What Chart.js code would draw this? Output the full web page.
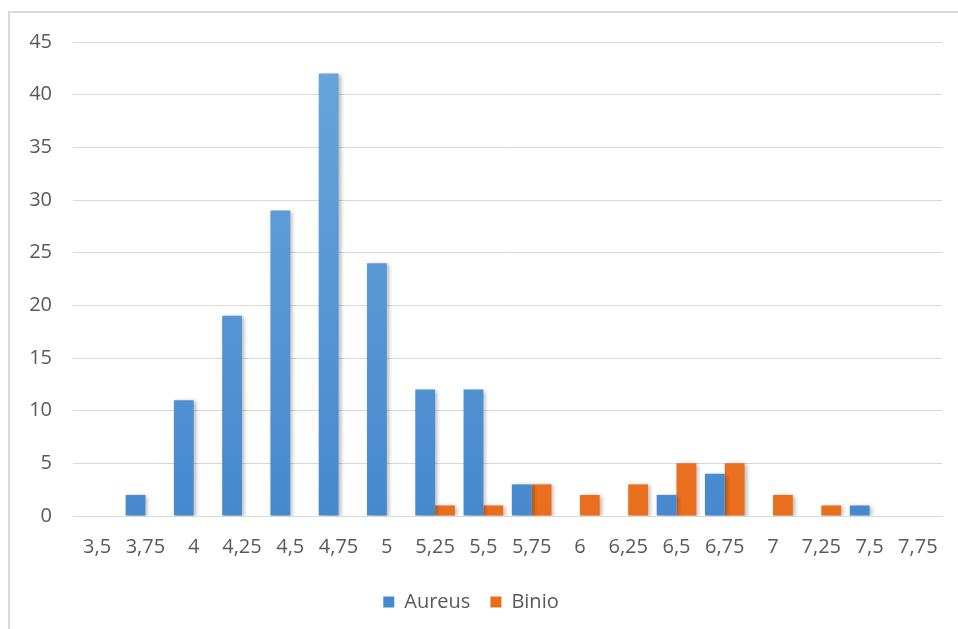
<!DOCTYPE html>
<html>
<head>
<meta charset="utf-8">
<script src="https://cdn.jsdelivr.net/npm/chart.js@4.4.1/dist/chart.umd.min.js"></script>
<style>
  html, body { margin: 0; padding: 0; background: #fff; }
  #wrap { position: relative; width: 958px; height: 629px; }
</style>
</head>
<body>
<div id="wrap"><canvas id="chart" width="958" height="629"></canvas></div>
<script>
// categorias (eixo x) e valores das duas séries
var categories = ['3,5', '3,75', '4', '4,25', '4,5', '4,75', '5', '5,25', '5,5', '5,75', '6', '6,25', '6,5', '6,75', '7', '7,25', '7,5', '7,75'];
var aureus = [null, 2, 11, 19, 29, 42, 24, 12, 12, 3, null, null, 2, 4, null, null, 1, null];
var binio = [null, null, null, null, null, null, null, 1, 1, 3, 2, 3, 5, 5, 2, 1, null, null];
var yTicks = [0, 5, 10, 15, 20, 25, 30, 35, 40, 45];

var textColor = '#595959';
var gridColor = '#d9d9d9';
var font = { family: 'Open Sans', size: 20 };

// degradê vertical das barras (estilo Excel)
function gradient(top, bottom) {
    return function (context) {
        var chart = context.chart;
        var area = chart.chartArea;
        if (!area) return bottom;
        var g = chart.ctx.createLinearGradient(0, area.top, 0, area.bottom);
        g.addColorStop(0, top);
        g.addColorStop(1, bottom);
        return g;
    };
}

// moldura cinza e sombra leve das barras
var frame = {
    id: 'frame',
    beforeDraw: function (chart) {
        var ctx = chart.ctx;
        ctx.save();
        ctx.strokeStyle = '#d9d9d9';
        ctx.lineWidth = 2;
        ctx.beginPath();
        ctx.moveTo(9, chart.height);
        ctx.lineTo(9, 12);
        ctx.lineTo(chart.width, 12);
        ctx.stroke();
        ctx.restore();
    },
    beforeDatasetsDraw: function (chart) {
        var ctx = chart.ctx;
        ctx.save();
        ctx.shadowColor = 'rgba(0,0,0,0.28)';
        ctx.shadowBlur = 4;
        ctx.shadowOffsetX = 2;
        ctx.shadowOffsetY = 1;
    },
    afterDatasetsDraw: function (chart) {
        chart.ctx.restore();
    }
};

var ctx = document.getElementById('chart').getContext('2d');
var chart = new Chart(ctx, {
    type: 'bar',
    data: {
        labels: categories,
        datasets: [{
            label: 'Aureus',
            data: aureus,
            backgroundColor: gradient('#6aa6dc', '#4689cf'),
            borderWidth: 0
        }, {
            label: 'Binio',
            data: binio,
            backgroundColor: gradient('#f28d4f', '#e96e1c'),
            borderWidth: 0
        }]
    },
    plugins: [frame],
    options: {
        responsive: false,
        animation: false,
        datasets: {
            bar: { categoryPercentage: 0.82, barPercentage: 1 }
        },
        layout: { padding: { left: 0, right: 16, top: 42, bottom: 7 } },
        scales: {
            x: {
                grid: { display: false, drawTicks: false },
                border: { display: true, color: gridColor, width: 1 },
                ticks: { color: textColor, font: font, padding: 19, maxRotation: 0, autoSkip: false },
                afterFit: function (scale) { scale.height = 56; }
            },
            y: {
                min: 0,
                max: 45,
                afterBuildTicks: function (scale) {
                    scale.ticks = yTicks.map(function (v) { return { value: v }; });
                },
                grid: { color: gridColor, lineWidth: 1, drawTicks: false },
                border: { display: false },
                ticks: { color: textColor, font: font, padding: 21 },
                afterFit: function (scale) { scale.width = 73; }
            }
        },
        plugins: {
            legend: {
                position: 'bottom',
                labels: {
                    color: textColor,
                    font: font,
                    boxWidth: 11,
                    boxHeight: 11,
                    padding: 20
                }
            },
            tooltip: { enabled: false }
        }
    }
});
</script>
</body>
</html>
